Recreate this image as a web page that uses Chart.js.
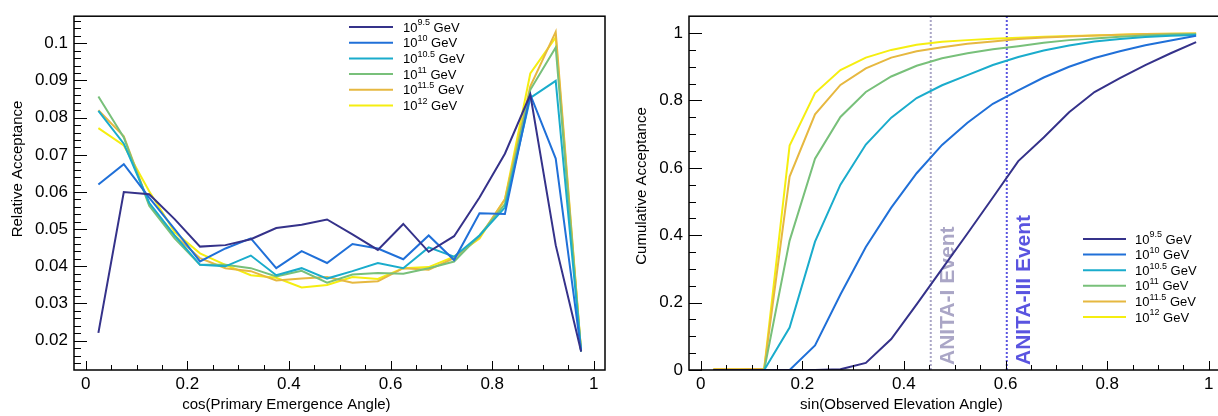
<!DOCTYPE html>
<html>
<head>
<meta charset="utf-8">
<title>Acceptance</title>
<script src="https://cdn.jsdelivr.net/npm/chart.js@4.4.1/dist/chart.umd.min.js"></script>
<style>
  html, body { margin: 0; padding: 0; background: #fff; overflow: hidden; }
  #wrap { position: relative; width: 1218px; height: 416px; overflow: hidden; }
  .panel { position: absolute; top: 0; height: 416px; }
  #leftPanel { left: 0; width: 609px; }
  #rightPanel { left: 609px; width: 613px; }
</style>
</head>
<body>
<div id="wrap">
  <div class="panel" id="leftPanel"><canvas id="relChart"></canvas></div>
  <div class="panel" id="rightPanel"><canvas id="cumChart"></canvas></div>
</div>
<script>
// Datos (centros de bin)
const binCenters = [0.025, 0.075, 0.125, 0.175, 0.225, 0.275, 0.325, 0.375, 0.425, 0.475,
                    0.525, 0.575, 0.625, 0.675, 0.725, 0.775, 0.825, 0.875, 0.925, 0.975];
const energyExps = ['9.5', '10', '10.5', '11', '11.5', '12'];
const lineColors = ['#35328a', '#2070d8', '#1aaccc', '#78c07a', '#e6b840', '#f5ee10'];

// Panel izquierdo: aceptancia relativa
const relAcc95  = [0.0221, 0.0600, 0.0594, 0.0527, 0.0453, 0.0457, 0.0473, 0.0503, 0.0512, 0.0526,
                   0.0486, 0.0444, 0.0514, 0.0439, 0.0481, 0.0585, 0.0703, 0.0862, 0.0457, 0.0171];
const relAcc10  = [0.0620, 0.0675, 0.0585, 0.0500, 0.0413, 0.0448, 0.0475, 0.0395, 0.0441, 0.0409,
                   0.0460, 0.0448, 0.0419, 0.0483, 0.0417, 0.0543, 0.0541, 0.0862, 0.0690, 0.0171];
const relAcc105 = [0.0818, 0.0730, 0.0571, 0.0483, 0.0404, 0.0400, 0.0429, 0.0376, 0.0395, 0.0367,
                   0.0387, 0.0409, 0.0395, 0.0451, 0.0426, 0.0483, 0.0558, 0.0853, 0.0899, 0.0171];
const relAcc11  = [0.0857, 0.0747, 0.0563, 0.0475, 0.0404, 0.0404, 0.0395, 0.0373, 0.0388, 0.0356,
                   0.0378, 0.0382, 0.0380, 0.0395, 0.0413, 0.0483, 0.0567, 0.0875, 0.0989, 0.0171];
const relAcc115 = [0.0820, 0.0750, 0.0567, 0.0483, 0.0422, 0.0395, 0.0387, 0.0362, 0.0367, 0.0371,
                   0.0356, 0.0360, 0.0395, 0.0391, 0.0422, 0.0479, 0.0580, 0.0884, 0.1031, 0.0171];
const relAcc12  = [0.0772, 0.0725, 0.0602, 0.0492, 0.0435, 0.0404, 0.0376, 0.0369, 0.0343, 0.0350,
                   0.0371, 0.0366, 0.0395, 0.0398, 0.0426, 0.0475, 0.0580, 0.0919, 0.1016, 0.0171];

// Panel derecho: aceptancia acumulada
const cumAcc95  = [0, 0, 0, 0, 0, 0.002, 0.021, 0.092, 0.195, 0.300,
                   0.405, 0.512, 0.620, 0.690, 0.765, 0.825, 0.866, 0.905, 0.940, 0.973];
const cumAcc10  = [0, 0, 0, 0, 0.073, 0.224, 0.365, 0.482, 0.584, 0.668,
                   0.734, 0.790, 0.830, 0.868, 0.900, 0.926, 0.946, 0.964, 0.978, 0.992];
const cumAcc105 = [0, 0, 0, 0.126, 0.381, 0.550, 0.669, 0.749, 0.807, 0.845,
                   0.875, 0.905, 0.929, 0.948, 0.963, 0.975, 0.982, 0.988, 0.992, 0.994];
const cumAcc11  = [0, 0, 0, 0.384, 0.627, 0.751, 0.825, 0.871, 0.903, 0.925,
                   0.940, 0.952, 0.961, 0.971, 0.979, 0.984, 0.989, 0.993, 0.996, 0.997];
const cumAcc115 = [0.002, 0.002, 0.004, 0.574, 0.759, 0.846, 0.895, 0.927, 0.946, 0.958,
                   0.968, 0.975, 0.982, 0.987, 0.990, 0.993, 0.995, 0.997, 0.998, 0.999];
const cumAcc12  = [0.002, 0.002, 0.004, 0.666, 0.822, 0.890, 0.927, 0.950, 0.965, 0.974,
                   0.979, 0.983, 0.986, 0.989, 0.991, 0.993, 0.995, 0.997, 0.998, 0.999];

// Ticks y eventos
const xTickValues = [0, 0.2, 0.4, 0.6, 0.8, 1];
const relTickValues = [0.02, 0.03, 0.04, 0.05, 0.06, 0.07, 0.08, 0.09, 0.1];
const cumTickValues = [0, 0.2, 0.4, 0.6, 0.8, 1];
const anitaEvents = [
  { label: 'ANITA-I Event', x: 0.4528, color: '#aaa6c6' },
  { label: 'ANITA-III Event', x: 0.6024, color: '#5a54e0' }
];

const FONT = "'Liberation Sans', Arial, Helvetica, sans-serif";
Chart.defaults.font.family = FONT;
Chart.defaults.color = '#000';

function fmt(v) {
  return String(+v.toFixed(3));
}

function makeDatasets(seriesList) {
  return seriesList.map((vals, i) => ({
    label: '10^' + energyExps[i] + ' GeV',
    data: vals.map((v, k) => ({ x: binCenters[k], y: v })),
    borderColor: lineColors[i],
    borderWidth: 2,
    pointRadius: 0,
    tension: 0,
    fill: false
  }));
}

/**
 * Plugin estilo ROOT: marco, ticks hacia dentro, títulos, leyenda y marcadores.
 */
function rootStyle(cfg) {
  return {
    id: 'rootStyle',
    beforeDatasetsDraw(chart) {
      if (!cfg.events) return;
      const { ctx, chartArea: a, scales: { x } } = chart;
      cfg.events.forEach(ev => {
        const px = x.getPixelForValue(ev.x);
        ctx.save();
        ctx.strokeStyle = ev.color;
        ctx.lineWidth = 2;
        ctx.setLineDash([2, 2]);
        ctx.beginPath();
        ctx.moveTo(px, a.bottom);
        ctx.lineTo(px, a.top);
        ctx.stroke();
        ctx.setLineDash([]);
        ctx.translate(px + 17, a.bottom - 5);
        ctx.rotate(-Math.PI / 2);
        ctx.fillStyle = ev.color;
        ctx.font = 'bold 21px ' + FONT;
        ctx.textAlign = 'left';
        ctx.textBaseline = 'middle';
        ctx.fillText(ev.label, 0, 0);
        ctx.restore();
      });
    },
    afterDatasetsDraw(chart) {
      const { ctx, chartArea: a, scales: { x, y } } = chart;
      ctx.save();
      ctx.strokeStyle = '#000';
      ctx.lineWidth = 1;
      // ticks eje x
      ctx.beginPath();
      for (let v = Math.ceil(x.min / 0.05) * 0.05; v <= x.max + 1e-9; v += 0.05) {
        const px = Math.round(x.getPixelForValue(v)) + 0.5;
        const major = Math.abs(v / 0.2 - Math.round(v / 0.2)) < 1e-6;
        ctx.moveTo(px, a.bottom);
        ctx.lineTo(px, a.bottom - (major ? 9 : 5));
      }
      // ticks eje y
      for (let v = Math.ceil(y.min / cfg.yMinor - 1e-6) * cfg.yMinor; v < y.max - 1e-9; v += cfg.yMinor) {
        const py = Math.round(y.getPixelForValue(v)) + 0.5;
        const major = Math.abs(v / cfg.yMajor - Math.round(v / cfg.yMajor)) < 1e-6;
        ctx.moveTo(a.left, py);
        ctx.lineTo(a.left + (major ? 13 : 7), py);
      }
      ctx.stroke();
      // marco
      ctx.lineWidth = 1.5;
      ctx.strokeRect(a.left, a.top, a.right - a.left, a.bottom - a.top);

      // títulos de ejes
      ctx.fillStyle = '#000';
      ctx.font = '15px ' + FONT;
      ctx.textAlign = 'center';
      ctx.textBaseline = 'middle';
      ctx.fillText(cfg.xTitle, a.left + 0.4 * (a.right - a.left), cfg.xTitleY);
      ctx.save();
      ctx.translate(cfg.yTitleX, cfg.yTitleY);
      ctx.rotate(-Math.PI / 2);
      ctx.fillText(cfg.yTitle, 0, 0);
      ctx.restore();

      // leyenda con superíndices
      const lg = cfg.legend;
      chart.data.datasets.forEach((ds, i) => {
        const ly = lg.y0 + i * lg.dy;
        ctx.strokeStyle = ds.borderColor;
        ctx.lineWidth = 2;
        ctx.beginPath();
        ctx.moveTo(lg.x0, ly);
        ctx.lineTo(lg.x1, ly);
        ctx.stroke();
        ctx.fillStyle = '#000';
        ctx.textAlign = 'left';
        ctx.textBaseline = 'middle';
        ctx.font = '13px ' + FONT;
        ctx.fillText('10', lg.xt, ly + 1);
        let w = ctx.measureText('10').width;
        ctx.font = '9px ' + FONT;
        ctx.fillText(energyExps[i], lg.xt + w, ly - 4);
        w += ctx.measureText(energyExps[i]).width;
        ctx.font = '13px ' + FONT;
        ctx.fillText(' GeV', lg.xt + w, ly + 1);
      });
      ctx.restore();
    }
  };
}

function makeChart(canvasId, seriesList, opt) {
  const ctx = document.getElementById(canvasId).getContext('2d');
  return new Chart(ctx, {
    type: 'line',
    data: { datasets: makeDatasets(seriesList) },
    options: {
      responsive: true,
      maintainAspectRatio: false,
      animation: false,
      layout: { padding: { left: 0, right: opt.padRight, top: opt.padTop, bottom: 0 } },
      plugins: { legend: { display: false }, tooltip: { enabled: false } },
      scales: {
        x: {
          type: 'linear',
          min: -0.023,
          max: 1.022,
          grid: { display: false, drawTicks: false },
          border: { display: false },
          afterBuildTicks: s => { s.ticks = xTickValues.map(v => ({ value: v })); },
          afterFit: s => { s.height = opt.xAxisH; },
          ticks: {
            autoSkip: false,
            maxRotation: 0,
            padding: 4,
            font: { size: 17 },
            callback: v => fmt(v)
          }
        },
        y: {
          type: 'linear',
          min: opt.yMin,
          max: opt.yMax,
          grid: { display: false, drawTicks: false },
          border: { display: false },
          afterBuildTicks: s => { s.ticks = opt.yTicks.map(v => ({ value: v })); },
          afterFit: s => { s.width = opt.yAxisW; },
          ticks: {
            autoSkip: false,
            padding: 6,
            font: { size: 17 },
            callback: v => fmt(v)
          }
        }
      }
    },
    plugins: [rootStyle(opt.style)]
  });
}

makeChart('relChart', [relAcc95, relAcc10, relAcc105, relAcc11, relAcc115, relAcc12], {
  yMin: 0.0121, yMax: 0.1073, yTicks: relTickValues,
  padRight: 4, padTop: 10, xAxisH: 46, yAxisW: 74,
  style: {
    yMinor: 0.002, yMajor: 0.01,
    xTitle: 'cos(Primary Emergence Angle)', xTitleY: 405,
    yTitle: 'Relative Acceptance', yTitleX: 18, yTitleY: 169,
    legend: { x0: 349, x1: 393, xt: 403, y0: 27, dy: 15.7 }
  }
});

makeChart('cumChart', [cumAcc95, cumAcc10, cumAcc105, cumAcc11, cumAcc115, cumAcc12], {
  yMin: 0, yMax: 1.05, yTicks: cumTickValues,
  padRight: 2, padTop: 10, xAxisH: 46, yAxisW: 80,
  style: {
    yMinor: 0.05, yMajor: 0.2,
    xTitle: 'sin(Observed Elevation Angle)', xTitleY: 405,
    yTitle: 'Cumulative Acceptance', yTitleX: 33, yTitleY: 186,
    legend: { x0: 474, x1: 517, xt: 526, y0: 239, dy: 15.6 },
    events: anitaEvents
  }
});
</script>
</body>
</html>
